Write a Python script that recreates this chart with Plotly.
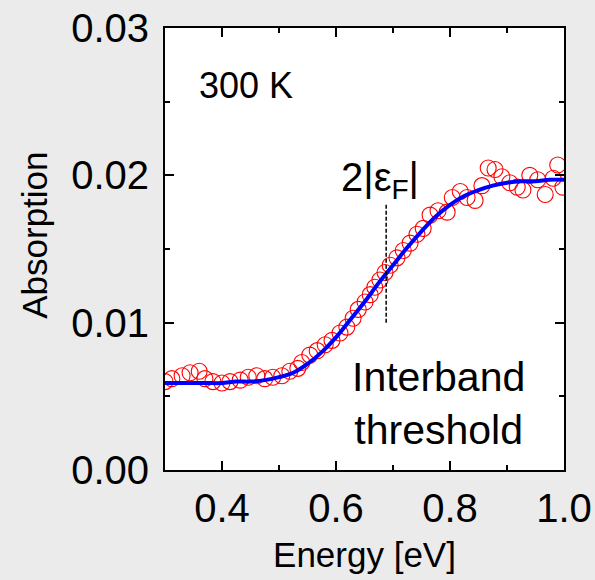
import plotly.graph_objects as go

# measured absorption (red open circles)
energy = [0.300, 0.312, 0.330, 0.344, 0.360, 0.370, 0.384, 0.400, 0.414, 0.432,
          0.446, 0.461, 0.475, 0.489, 0.505, 0.519, 0.533, 0.540, 0.554, 0.567,
          0.581, 0.593, 0.607, 0.619, 0.630, 0.639, 0.651, 0.660, 0.668, 0.677,
          0.686, 0.695, 0.707, 0.718, 0.730, 0.742, 0.753, 0.765, 0.779, 0.795,
          0.804, 0.818, 0.830, 0.844, 0.856, 0.867, 0.879, 0.891, 0.905, 0.918,
          0.928, 0.940, 0.954, 0.967, 0.981, 0.989, 0.998]
absorption = [0.0060, 0.0062, 0.0064, 0.0066, 0.0067, 0.0062, 0.0060, 0.0059, 0.0060, 0.0061,
              0.0063, 0.0064, 0.0062, 0.0063, 0.0064, 0.0067, 0.0069, 0.0073, 0.0078, 0.0081,
              0.0085, 0.0088, 0.0093, 0.0097, 0.0103, 0.0109, 0.0114, 0.0119, 0.0124, 0.0129,
              0.0134, 0.0139, 0.0144, 0.0149, 0.0154, 0.0160, 0.0164, 0.0173, 0.0176, 0.0175,
              0.0185, 0.0189, 0.0185, 0.0183, 0.0193, 0.0205, 0.0204, 0.0199, 0.0195, 0.0192,
              0.0190, 0.0200, 0.0197, 0.0187, 0.0198, 0.0207, 0.0192]

# fitted curve (blue line)
fit_energy = [0.300, 0.325, 0.350, 0.375, 0.400, 0.425, 0.450, 0.475, 0.500, 0.525,
              0.550, 0.575, 0.600, 0.625, 0.650, 0.675, 0.700, 0.725, 0.750, 0.775,
              0.800, 0.825, 0.850, 0.875, 0.900, 0.925, 0.950, 0.975, 1.000]
fit_absorption = [0.0059, 0.0059, 0.0059, 0.0059, 0.0059, 0.0060, 0.0060, 0.0061, 0.0063, 0.0066,
                  0.0072, 0.0080, 0.0090, 0.0102, 0.0114, 0.0127, 0.0139, 0.0151, 0.0162, 0.0172,
                  0.0180, 0.0186, 0.0190, 0.0193, 0.0195, 0.0196, 0.0196, 0.0197, 0.0197]

# threshold marker 2|eF|
threshold_energy = 0.688
threshold_span = [0.0100, 0.0181]

x_ticks = [0.4, 0.6, 0.8, 1.0]
x_tick_labels = ["0.4", "0.6", "0.8", "1.0"]
y_ticks = [0.00, 0.01, 0.02, 0.03]
y_tick_labels = ["0.00", "0.01", "0.02", "0.03"]

FONT = "Liberation Sans, Arial, sans-serif"

fig = go.Figure()
fig.add_trace(go.Scatter(
    x=energy, y=absorption, mode="markers",
    marker=dict(symbol="circle-open", size=16, color="#ff0000", line=dict(width=1.1, color="#ff0000")),
    showlegend=False, cliponaxis=True))
fig.add_trace(go.Scatter(
    x=fit_energy, y=fit_absorption, mode="lines",
    line=dict(color="#0000ff", width=4, shape="spline"),
    showlegend=False))
fig.add_trace(go.Scatter(
    x=[threshold_energy, threshold_energy], y=threshold_span, mode="lines",
    line=dict(color="black", width=1.5, dash="4px,2px"),
    showlegend=False))

fig.add_annotation(x=0.356, y=0.0261, xref="x", yref="y", text="300 K",
                   showarrow=False, xanchor="left", yanchor="middle",
                   font=dict(family=FONT, size=36, color="black"))
fig.add_annotation(x=0.677, y=0.0197, xref="x", yref="y", text="2|ε<sub>F</sub>|",
                   showarrow=False, xanchor="center", yanchor="middle",
                   font=dict(family=FONT, size=40, color="black"))
fig.add_annotation(x=0.779, y=0.0045, xref="x", yref="y", text="Interband<br>threshold",
                   showarrow=False, xanchor="center", yanchor="middle", align="center",
                   font=dict(family=FONT, size=41, color="black"))
# y-axis title placed as annotation (sits above the plot centre in the reference)
fig.add_annotation(x=-0.326, y=0.532, xref="paper", yref="paper", text="Absorption",
                   showarrow=False, xanchor="center", yanchor="middle", textangle=-90,
                   font=dict(family=FONT, size=35, color="black"))

axis_common = dict(
    showline=True, linecolor="black", linewidth=2, mirror="allticks",
    ticks="inside", ticklen=9, tickwidth=2, tickcolor="black",
    showgrid=False, zeroline=False,
    tickfont=dict(family=FONT, size=40, color="black"),
)

fig.update_xaxes(
    range=[0.3, 1.0], tickvals=x_ticks, ticktext=x_tick_labels,
    minor=dict(ticks="inside", ticklen=5, tickwidth=2, tickcolor="black", tickvals=[0.3, 0.5, 0.7, 0.9]),
    title=dict(text="Energy [eV]", font=dict(family=FONT, size=35, color="black"), standoff=13),
    ticklabelstandoff=2,
    **axis_common)
fig.update_yaxes(
    range=[0.0, 0.03], tickvals=y_ticks, ticktext=y_tick_labels,
    minor=dict(ticks="inside", ticklen=5, tickwidth=2, tickcolor="black", tickvals=[0.005, 0.015, 0.025]),
    ticklabelstandoff=6,
    **axis_common)

fig.update_layout(
    width=595, height=580,
    margin=dict(l=165, r=31, t=28, b=110, autoexpand=False),
    paper_bgcolor="#ebebeb", plot_bgcolor="white",
    showlegend=False,
)

fig.write_html("out.html")
